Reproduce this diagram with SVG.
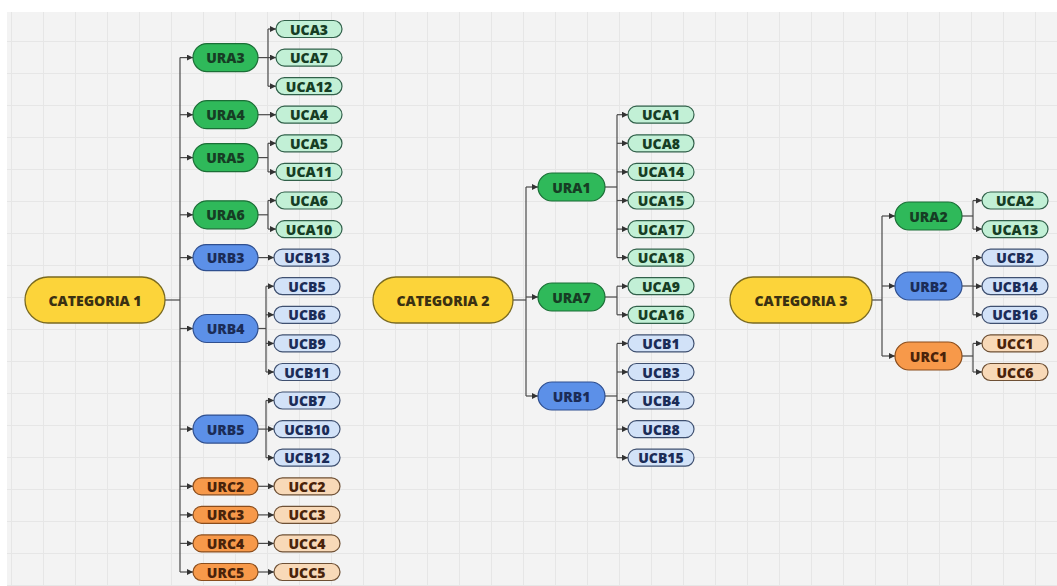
<svg xmlns="http://www.w3.org/2000/svg" width="1057" height="586" viewBox="0 0 1057 586">
<style>
text{font-family:"Open Sans","Noto Sans","Liberation Sans",sans-serif;font-weight:800;font-size:14px;text-anchor:middle;dominant-baseline:central}
.cat{fill:#fcd43a;stroke:#7a6a20;stroke-width:1.3}
.ura{fill:#2fb95a;stroke:#1b6e36;stroke-width:1.2}
.urb{fill:#5c90e8;stroke:#2f4f8f;stroke-width:1.2}
.urc{fill:#f7994a;stroke:#8a4d1c;stroke-width:1.2}
.uca{fill:#c2f0d6;stroke:#31604a;stroke-width:1.2}
.ucb{fill:#d2e2f8;stroke:#3f5070;stroke-width:1.2}
.ucc{fill:#f8d9b8;stroke:#6e5035;stroke-width:1.2}
.tc{fill:#3b3112}.ta{fill:#163d24}.tb{fill:#1b2c57}.tu{fill:#4a230a}
#connectors line{stroke:#4a4a4a;stroke-width:1.2;fill:none}
#connectors line.a{marker-end:url(#arr)}
</style>
<defs>
<marker id="arr" markerUnits="userSpaceOnUse" markerWidth="6" markerHeight="6" refX="6" refY="3" orient="auto">
<path d="M0,0 L6,3 L0,6 z" fill="#333"/>
</marker>
<pattern id="grid" patternUnits="userSpaceOnUse" x="11" y="9" width="32" height="32">
<path d="M0 0.5 H32 M0.5 0 V32" stroke="#e6e6e6" stroke-width="1" fill="none"/>
</pattern>
</defs>
<rect x="0" y="0" width="1057" height="586" fill="#ffffff"/>
<rect x="7" y="12" width="1050" height="574" fill="#f3f3f3"/>
<rect x="7" y="12" width="1050" height="574" fill="url(#grid)"/>

<g id="connectors">
<line x1="165" y1="300" x2="180" y2="300"/>
<line x1="180" y1="57.6" x2="180" y2="572"/>
<line class="a" x1="180" y1="57.6" x2="193" y2="57.6"/>
<line class="a" x1="180" y1="114.7" x2="193" y2="114.7"/>
<line class="a" x1="180" y1="157.6" x2="193" y2="157.6"/>
<line class="a" x1="180" y1="214.8" x2="193" y2="214.8"/>
<line class="a" x1="180" y1="257.6" x2="193" y2="257.6"/>
<line class="a" x1="180" y1="328.5" x2="193" y2="328.5"/>
<line class="a" x1="180" y1="429.1" x2="193" y2="429.1"/>
<line class="a" x1="180" y1="486.3" x2="193" y2="486.3"/>
<line class="a" x1="180" y1="514.9" x2="193" y2="514.9"/>
<line class="a" x1="180" y1="543.4" x2="193" y2="543.4"/>
<line class="a" x1="180" y1="572" x2="193" y2="572"/>
<line x1="258" y1="57.6" x2="268" y2="57.6"/>
<line x1="268" y1="29" x2="268" y2="86.2"/>
<line class="a" x1="268" y1="29" x2="276" y2="29"/>
<line class="a" x1="268" y1="57.6" x2="276" y2="57.6"/>
<line class="a" x1="268" y1="86.2" x2="276" y2="86.2"/>
<line class="a" x1="258" y1="114.7" x2="276" y2="114.7"/>
<line x1="258" y1="157.6" x2="268" y2="157.6"/>
<line x1="268" y1="143.3" x2="268" y2="171.9"/>
<line class="a" x1="268" y1="143.3" x2="276" y2="143.3"/>
<line class="a" x1="268" y1="171.9" x2="276" y2="171.9"/>
<line x1="258" y1="214.8" x2="268" y2="214.8"/>
<line x1="268" y1="200.5" x2="268" y2="229.1"/>
<line class="a" x1="268" y1="200.5" x2="276" y2="200.5"/>
<line class="a" x1="268" y1="229.1" x2="276" y2="229.1"/>
<line class="a" x1="258" y1="257.6" x2="274" y2="257.6"/>
<line x1="258" y1="328.5" x2="266" y2="328.5"/>
<line x1="266" y1="286.2" x2="266" y2="372"/>
<line class="a" x1="266" y1="286.2" x2="274" y2="286.2"/>
<line class="a" x1="266" y1="314.8" x2="274" y2="314.8"/>
<line class="a" x1="266" y1="343.4" x2="274" y2="343.4"/>
<line class="a" x1="266" y1="372" x2="274" y2="372"/>
<line x1="258" y1="429.1" x2="266" y2="429.1"/>
<line x1="266" y1="400.5" x2="266" y2="457.7"/>
<line class="a" x1="266" y1="400.5" x2="274" y2="400.5"/>
<line class="a" x1="266" y1="429.1" x2="274" y2="429.1"/>
<line class="a" x1="266" y1="457.7" x2="274" y2="457.7"/>
<line class="a" x1="258" y1="486.3" x2="274" y2="486.3"/>
<line class="a" x1="258" y1="514.9" x2="274" y2="514.9"/>
<line class="a" x1="258" y1="543.4" x2="274" y2="543.4"/>
<line class="a" x1="258" y1="572" x2="274" y2="572"/>

<line x1="513" y1="300" x2="526" y2="300"/>
<line x1="526" y1="187" x2="526" y2="396"/>
<line class="a" x1="526" y1="187" x2="538" y2="187"/>
<line class="a" x1="526" y1="297" x2="538" y2="297"/>
<line class="a" x1="526" y1="396" x2="538" y2="396"/>
<line x1="605" y1="187" x2="617" y2="187"/>
<line x1="617" y1="114.7" x2="617" y2="257.6"/>
<line class="a" x1="617" y1="114.7" x2="628" y2="114.7"/>
<line class="a" x1="617" y1="143.3" x2="628" y2="143.3"/>
<line class="a" x1="617" y1="171.9" x2="628" y2="171.9"/>
<line class="a" x1="617" y1="200.5" x2="628" y2="200.5"/>
<line class="a" x1="617" y1="229.1" x2="628" y2="229.1"/>
<line class="a" x1="617" y1="257.6" x2="628" y2="257.6"/>
<line x1="605" y1="297" x2="617" y2="297"/>
<line x1="617" y1="286.2" x2="617" y2="314.8"/>
<line class="a" x1="617" y1="286.2" x2="628" y2="286.2"/>
<line class="a" x1="617" y1="314.8" x2="628" y2="314.8"/>
<line x1="605" y1="396" x2="617" y2="396"/>
<line x1="617" y1="343.4" x2="617" y2="457.7"/>
<line class="a" x1="617" y1="343.4" x2="628" y2="343.4"/>
<line class="a" x1="617" y1="372" x2="628" y2="372"/>
<line class="a" x1="617" y1="400.5" x2="628" y2="400.5"/>
<line class="a" x1="617" y1="429.1" x2="628" y2="429.1"/>
<line class="a" x1="617" y1="457.7" x2="628" y2="457.7"/>

<line x1="872" y1="300" x2="882" y2="300"/>
<line x1="882" y1="216" x2="882" y2="356"/>
<line class="a" x1="882" y1="216" x2="895" y2="216"/>
<line class="a" x1="882" y1="286" x2="895" y2="286"/>
<line class="a" x1="882" y1="356" x2="895" y2="356"/>
<line x1="962" y1="216" x2="973" y2="216"/>
<line x1="973" y1="200.5" x2="973" y2="229.1"/>
<line class="a" x1="973" y1="200.5" x2="982" y2="200.5"/>
<line class="a" x1="973" y1="229.1" x2="982" y2="229.1"/>
<line x1="962" y1="286" x2="973" y2="286"/>
<line x1="973" y1="257.6" x2="973" y2="314.8"/>
<line class="a" x1="973" y1="257.6" x2="982" y2="257.6"/>
<line class="a" x1="973" y1="286.2" x2="982" y2="286.2"/>
<line class="a" x1="973" y1="314.8" x2="982" y2="314.8"/>
<line x1="962" y1="356" x2="973" y2="356"/>
<line x1="973" y1="343.4" x2="973" y2="372"/>
<line class="a" x1="973" y1="343.4" x2="982" y2="343.4"/>
<line class="a" x1="973" y1="372" x2="982" y2="372"/>
</g>

<g id="cat1"><rect class="cat" x="25" y="277" width="140" height="46" rx="23"/><text class="tc" x="95" y="300">CATEGORIA 1</text></g>
<g id="ura3"><rect class="ura" x="193" y="43.6" width="65" height="28" rx="14"/><text class="ta" x="225.5" y="57.6">URA3</text></g>
<g id="ura4"><rect class="ura" x="193" y="100.7" width="65" height="28" rx="14"/><text class="ta" x="225.5" y="114.7">URA4</text></g>
<g id="ura5"><rect class="ura" x="193" y="143.6" width="65" height="28" rx="14"/><text class="ta" x="225.5" y="157.6">URA5</text></g>
<g id="ura6"><rect class="ura" x="193" y="200.8" width="65" height="28" rx="14"/><text class="ta" x="225.5" y="214.8">URA6</text></g>
<g id="urb3"><rect class="urb" x="193" y="244.6" width="65" height="26" rx="13"/><text class="tb" x="225.5" y="257.6">URB3</text></g>
<g id="urb4"><rect class="urb" x="193" y="314.5" width="65" height="28" rx="14"/><text class="tb" x="225.5" y="328.5">URB4</text></g>
<g id="urb5"><rect class="urb" x="193" y="415.1" width="65" height="28" rx="14"/><text class="tb" x="225.5" y="429.1">URB5</text></g>
<g id="urc2"><rect class="urc" x="193" y="477.8" width="65" height="17" rx="8.5"/><text class="tu" x="225.5" y="486.3">URC2</text></g>
<g id="urc3"><rect class="urc" x="193" y="506.4" width="65" height="17" rx="8.5"/><text class="tu" x="225.5" y="514.9">URC3</text></g>
<g id="urc4"><rect class="urc" x="193" y="534.9" width="65" height="17" rx="8.5"/><text class="tu" x="225.5" y="543.4">URC4</text></g>
<g id="urc5"><rect class="urc" x="193" y="563.5" width="65" height="17" rx="8.5"/><text class="tu" x="225.5" y="572">URC5</text></g>

<g id="uca3"><rect class="uca" x="276" y="20.5" width="66" height="17" rx="8.5"/><text class="ta" x="309" y="29">UCA3</text></g>
<g id="uca7"><rect class="uca" x="276" y="49.1" width="66" height="17" rx="8.5"/><text class="ta" x="309" y="57.6">UCA7</text></g>
<g id="uca12"><rect class="uca" x="276" y="77.7" width="66" height="17" rx="8.5"/><text class="ta" x="309" y="86.2">UCA12</text></g>
<g id="uca4"><rect class="uca" x="276" y="106.2" width="66" height="17" rx="8.5"/><text class="ta" x="309" y="114.7">UCA4</text></g>
<g id="uca5"><rect class="uca" x="276" y="134.8" width="66" height="17" rx="8.5"/><text class="ta" x="309" y="143.3">UCA5</text></g>
<g id="uca11"><rect class="uca" x="276" y="163.4" width="66" height="17" rx="8.5"/><text class="ta" x="309" y="171.9">UCA11</text></g>
<g id="uca6"><rect class="uca" x="276" y="192" width="66" height="17" rx="8.5"/><text class="ta" x="309" y="200.5">UCA6</text></g>
<g id="uca10"><rect class="uca" x="276" y="220.6" width="66" height="17" rx="8.5"/><text class="ta" x="309" y="229.1">UCA10</text></g>
<g id="ucb13"><rect class="ucb" x="274" y="249.1" width="66" height="17" rx="8.5"/><text class="tb" x="307" y="257.6">UCB13</text></g>
<g id="ucb5"><rect class="ucb" x="274" y="277.7" width="66" height="17" rx="8.5"/><text class="tb" x="307" y="286.2">UCB5</text></g>
<g id="ucb6"><rect class="ucb" x="274" y="306.3" width="66" height="17" rx="8.5"/><text class="tb" x="307" y="314.8">UCB6</text></g>
<g id="ucb9"><rect class="ucb" x="274" y="334.9" width="66" height="17" rx="8.5"/><text class="tb" x="307" y="343.4">UCB9</text></g>
<g id="ucb11"><rect class="ucb" x="274" y="363.5" width="66" height="17" rx="8.5"/><text class="tb" x="307" y="372">UCB11</text></g>
<g id="ucb7"><rect class="ucb" x="274" y="392" width="66" height="17" rx="8.5"/><text class="tb" x="307" y="400.5">UCB7</text></g>
<g id="ucb10"><rect class="ucb" x="274" y="420.6" width="66" height="17" rx="8.5"/><text class="tb" x="307" y="429.1">UCB10</text></g>
<g id="ucb12"><rect class="ucb" x="274" y="449.2" width="66" height="17" rx="8.5"/><text class="tb" x="307" y="457.7">UCB12</text></g>
<g id="ucc2"><rect class="ucc" x="274" y="477.8" width="66" height="17" rx="8.5"/><text class="tu" x="307" y="486.3">UCC2</text></g>
<g id="ucc3"><rect class="ucc" x="274" y="506.4" width="66" height="17" rx="8.5"/><text class="tu" x="307" y="514.9">UCC3</text></g>
<g id="ucc4"><rect class="ucc" x="274" y="534.9" width="66" height="17" rx="8.5"/><text class="tu" x="307" y="543.4">UCC4</text></g>
<g id="ucc5"><rect class="ucc" x="274" y="563.5" width="66" height="17" rx="8.5"/><text class="tu" x="307" y="572">UCC5</text></g>

<g id="cat2"><rect class="cat" x="373" y="277" width="140" height="46" rx="23"/><text class="tc" x="443" y="300">CATEGORIA 2</text></g>
<g id="ura1"><rect class="ura" x="538" y="173" width="67" height="28" rx="14"/><text class="ta" x="571.5" y="187">URA1</text></g>
<g id="ura7"><rect class="ura" x="538" y="283" width="67" height="28" rx="14"/><text class="ta" x="571.5" y="297">URA7</text></g>
<g id="urb1"><rect class="urb" x="538" y="382" width="67" height="28" rx="14"/><text class="tb" x="571.5" y="396">URB1</text></g>
<g id="uca1"><rect class="uca" x="628" y="106.2" width="66" height="17" rx="8.5"/><text class="ta" x="661" y="114.7">UCA1</text></g>
<g id="uca8"><rect class="uca" x="628" y="134.8" width="66" height="17" rx="8.5"/><text class="ta" x="661" y="143.3">UCA8</text></g>
<g id="uca14"><rect class="uca" x="628" y="163.4" width="66" height="17" rx="8.5"/><text class="ta" x="661" y="171.9">UCA14</text></g>
<g id="uca15"><rect class="uca" x="628" y="192" width="66" height="17" rx="8.5"/><text class="ta" x="661" y="200.5">UCA15</text></g>
<g id="uca17"><rect class="uca" x="628" y="220.6" width="66" height="17" rx="8.5"/><text class="ta" x="661" y="229.1">UCA17</text></g>
<g id="uca18"><rect class="uca" x="628" y="249.1" width="66" height="17" rx="8.5"/><text class="ta" x="661" y="257.6">UCA18</text></g>
<g id="uca9"><rect class="uca" x="628" y="277.7" width="66" height="17" rx="8.5"/><text class="ta" x="661" y="286.2">UCA9</text></g>
<g id="uca16"><rect class="uca" x="628" y="306.3" width="66" height="17" rx="8.5"/><text class="ta" x="661" y="314.8">UCA16</text></g>
<g id="ucb1"><rect class="ucb" x="628" y="334.9" width="66" height="17" rx="8.5"/><text class="tb" x="661" y="343.4">UCB1</text></g>
<g id="ucb3"><rect class="ucb" x="628" y="363.5" width="66" height="17" rx="8.5"/><text class="tb" x="661" y="372">UCB3</text></g>
<g id="ucb4"><rect class="ucb" x="628" y="392" width="66" height="17" rx="8.5"/><text class="tb" x="661" y="400.5">UCB4</text></g>
<g id="ucb8"><rect class="ucb" x="628" y="420.6" width="66" height="17" rx="8.5"/><text class="tb" x="661" y="429.1">UCB8</text></g>
<g id="ucb15"><rect class="ucb" x="628" y="449.2" width="66" height="17" rx="8.5"/><text class="tb" x="661" y="457.7">UCB15</text></g>

<g id="cat3"><rect class="cat" x="730" y="277" width="142" height="46" rx="23"/><text class="tc" x="801" y="300">CATEGORIA 3</text></g>
<g id="ura2"><rect class="ura" x="895" y="202" width="67" height="28" rx="14"/><text class="ta" x="928.5" y="216">URA2</text></g>
<g id="urb2"><rect class="urb" x="895" y="272" width="67" height="28" rx="14"/><text class="tb" x="928.5" y="286">URB2</text></g>
<g id="urc1"><rect class="urc" x="895" y="342" width="67" height="28" rx="14"/><text class="tu" x="928.5" y="356">URC1</text></g>
<g id="uca2"><rect class="uca" x="982" y="192" width="66" height="17" rx="8.5"/><text class="ta" x="1015" y="200.5">UCA2</text></g>
<g id="uca13"><rect class="uca" x="982" y="220.6" width="66" height="17" rx="8.5"/><text class="ta" x="1015" y="229.1">UCA13</text></g>
<g id="ucb2"><rect class="ucb" x="982" y="249.1" width="66" height="17" rx="8.5"/><text class="tb" x="1015" y="257.6">UCB2</text></g>
<g id="ucb14"><rect class="ucb" x="982" y="277.7" width="66" height="17" rx="8.5"/><text class="tb" x="1015" y="286.2">UCB14</text></g>
<g id="ucb16"><rect class="ucb" x="982" y="306.3" width="66" height="17" rx="8.5"/><text class="tb" x="1015" y="314.8">UCB16</text></g>
<g id="ucc1"><rect class="ucc" x="982" y="334.9" width="66" height="17" rx="8.5"/><text class="tu" x="1015" y="343.4">UCC1</text></g>
<g id="ucc6"><rect class="ucc" x="982" y="363.5" width="66" height="17" rx="8.5"/><text class="tu" x="1015" y="372">UCC6</text></g>
</svg>
